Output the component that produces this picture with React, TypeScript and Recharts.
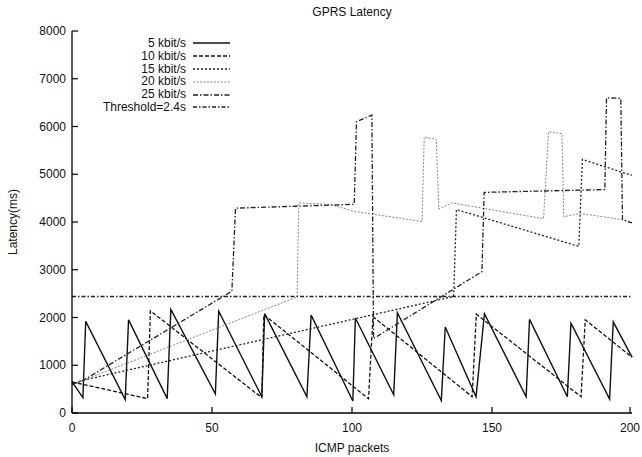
import React from "react";
import { LineChart, Line, XAxis, YAxis, Legend } from "recharts";

type Pt = { x: number; y: number };

// latency samples (x = ICMP packet, y = ms)
const kbit5: Pt[] = [
  { x: 0, y: 650 }, { x: 3.9, y: 320 }, { x: 4.9, y: 1920 }, { x: 19, y: 280 }, { x: 20.2, y: 1950 },
  { x: 34, y: 300 }, { x: 35.3, y: 2170 }, { x: 51.2, y: 400 }, { x: 52.4, y: 2130 }, { x: 67.8, y: 340 },
  { x: 68.8, y: 2080 }, { x: 83.9, y: 340 }, { x: 85.4, y: 2050 }, { x: 100.3, y: 250 }, { x: 101.2, y: 1990 },
  { x: 114.9, y: 380 }, { x: 116.2, y: 2100 }, { x: 131.9, y: 260 }, { x: 133.3, y: 1800 }, { x: 144.3, y: 340 },
  { x: 147.3, y: 2080 }, { x: 162.2, y: 340 }, { x: 163.4, y: 1960 }, { x: 176.9, y: 340 }, { x: 178.2, y: 1880 },
  { x: 192, y: 290 }, { x: 193.3, y: 1910 }, { x: 200, y: 1170 },
];

const kbit10: Pt[] = [
  { x: 0, y: 650 }, { x: 27, y: 300 }, { x: 28, y: 2140 }, { x: 67.8, y: 320 }, { x: 68.5, y: 2060 },
  { x: 105.9, y: 300 }, { x: 107.5, y: 2020 }, { x: 142.9, y: 340 }, { x: 144.4, y: 2070 },
  { x: 181.8, y: 340 }, { x: 183.3, y: 1950 }, { x: 200, y: 1170 },
];

const kbit15: Pt[] = [
  { x: 0, y: 600 }, { x: 4.2, y: 690 }, { x: 136.3, y: 2440 }, { x: 137.3, y: 4260 }, { x: 181, y: 3490 },
  { x: 182.3, y: 5310 }, { x: 197.6, y: 5020 }, { x: 200, y: 4980 },
];

const kbit20: Pt[] = [
  { x: 0, y: 600 }, { x: 4.2, y: 690 }, { x: 80.4, y: 2430 }, { x: 81, y: 4400 }, { x: 92, y: 4370 },
  { x: 101, y: 4220 }, { x: 125, y: 4010 }, { x: 125.8, y: 5780 }, { x: 130.1, y: 5730 }, { x: 131, y: 4270 },
  { x: 135.7, y: 4400 }, { x: 168.4, y: 4070 }, { x: 170.2, y: 5890 }, { x: 175, y: 5850 }, { x: 175.6, y: 4110 },
  { x: 181.5, y: 4180 }, { x: 197.6, y: 4040 }, { x: 200, y: 3990 },
];

const kbit25: Pt[] = [
  { x: 0, y: 600 }, { x: 4.2, y: 690 }, { x: 57.1, y: 2550 }, { x: 58.4, y: 4290 }, { x: 80, y: 4330 },
  { x: 100.8, y: 4370 }, { x: 101.6, y: 6100 }, { x: 107.1, y: 6240 }, { x: 107.7, y: 1560 },
  { x: 146.4, y: 2960 }, { x: 147.2, y: 4620 }, { x: 190.3, y: 4680 }, { x: 190.9, y: 6600 },
  { x: 196, y: 6590 }, { x: 196.6, y: 4050 }, { x: 200, y: 3980 },
];

const threshold: Pt[] = [{ x: 0, y: 2440 }, { x: 200, y: 2440 }];

const xTicks = [0, 50, 100, 150, 200];
const yTicks = [0, 1000, 2000, 3000, 4000, 5000, 6000, 7000, 8000];

const FONT = "'Liberation Sans', Arial, Helvetica, sans-serif";

const series = [
  { name: "5 kbit/s", data: kbit5, stroke: "#111", dash: undefined as string | undefined, width: 1.4 },
  { name: "10 kbit/s", data: kbit10, stroke: "#111", dash: "4 2", width: 1.3 },
  { name: "15 kbit/s", data: kbit15, stroke: "#222", dash: "2 2", width: 1.3 },
  { name: "20 kbit/s", data: kbit20, stroke: "#888", dash: "2 1.5", width: 1 },
  { name: "25 kbit/s", data: kbit25, stroke: "#222", dash: "5 2 1.5 2", width: 1.3 },
  { name: "Threshold=2.4s", data: threshold, stroke: "#222", dash: "4 2 1.5 2", width: 1.4 },
];

const BottomTick = (props: any) => {
  const { x, y, payload } = props;
  return (
    <g>
      <line x1={x} y1={y} x2={x} y2={y - 6} stroke="#000" strokeWidth={1.2} />
      <text x={x} y={y + 19} textAnchor="middle" fontSize={12} fontFamily={FONT} fill="#111">
        {payload.value}
      </text>
    </g>
  );
};

const LeftTick = (props: any) => {
  const { x, y, payload } = props;
  return (
    <g>
      <line x1={x} y1={y} x2={x + 6} y2={y} stroke="#000" strokeWidth={1.2} />
      <text x={x - 6} y={y + 4} textAnchor="end" fontSize={12} fontFamily={FONT} fill="#111">
        {payload.value}
      </text>
    </g>
  );
};

const TopTick = (props: any) => (
  <line x1={props.x} y1={props.y} x2={props.x} y2={props.y + 6} stroke="#000" strokeWidth={1.2} />
);

const RightTick = (props: any) => (
  <line x1={props.x} y1={props.y} x2={props.x - 6} y2={props.y} stroke="#000" strokeWidth={1.2} />
);

const KeyBox = () => (
  <div style={{ fontFamily: FONT, fontSize: 12, color: "#111" }}>
    {series.map((s) => (
      <div key={s.name} style={{ display: "flex", alignItems: "center", height: 12.8 }}>
        <span style={{ width: 106, textAlign: "right", lineHeight: "12.8px" }}>{s.name}</span>
        <svg width={45} height={12} style={{ display: "block" }}>
          <line x1={7} y1={6} x2={44} y2={6} stroke={s.stroke} strokeWidth={s.width} strokeDasharray={s.dash} />
        </svg>
      </div>
    ))}
  </div>
);

export default function App() {
  return (
    <div style={{ position: "absolute", left: 0, top: 0, width: 642, height: 457, background: "#fff" }}>
      <div
        style={{
          position: "absolute", left: 72, top: 5, width: 560, textAlign: "center",
          fontFamily: FONT, fontSize: 12, color: "#111",
        }}
      >
        GPRS Latency
      </div>
      <LineChart width={642} height={457} margin={{ top: 31, right: 10, left: 0, bottom: 0 }}>
        <XAxis
          dataKey="x" type="number" domain={[0, 200]} ticks={xTicks} height={44}
          tickSize={0} tickMargin={0} tickLine={false} tick={BottomTick}
          axisLine={{ stroke: "#000", strokeWidth: 1.3 }}
          label={{ value: "ICMP packets", position: "insideBottom", offset: 5, fontSize: 12, fontFamily: FONT, fill: "#111" }}
        />
        <XAxis
          xAxisId="top" orientation="top" dataKey="x" type="number" domain={[0, 200]} ticks={xTicks} height={0}
          tickSize={0} tickMargin={0} tickLine={false} tick={TopTick}
          axisLine={{ stroke: "#000", strokeWidth: 1.3 }}
        />
        <YAxis
          type="number" domain={[0, 8000]} ticks={yTicks} width={72}
          tickSize={0} tickMargin={0} tickLine={false} tick={LeftTick}
          axisLine={{ stroke: "#000", strokeWidth: 1.3 }}
          label={{
            content: (p: any) => {
              const vb = p.viewBox;
              const cy = vb.y + vb.height / 2;
              return (
                <text x={14} y={cy} transform={`rotate(-90 14 ${cy})`} textAnchor="middle"
                  dominantBaseline="middle" fontSize={12} fontFamily={FONT} fill="#111">
                  Latency(ms)
                </text>
              );
            },
          }}
        />
        <YAxis
          yAxisId="right" orientation="right" type="number" domain={[0, 8000]} ticks={yTicks} width={0}
          tickSize={0} tickMargin={0} tickLine={false} tick={RightTick}
          axisLine={{ stroke: "#000", strokeWidth: 1.3 }}
        />
        <Legend
          layout="vertical" align="center" verticalAlign="middle"
          wrapperStyle={{ left: 80, top: 37, width: 160 }}
          content={() => <KeyBox />}
        />
        {series.map((s) => (
          <Line
            key={s.name} name={s.name} data={s.data} dataKey="y" type="linear"
            stroke={s.stroke} strokeWidth={s.width} strokeDasharray={s.dash}
            dot={false} activeDot={false} isAnimationActive={false}
          />
        ))}
      </LineChart>
    </div>
  );
}
